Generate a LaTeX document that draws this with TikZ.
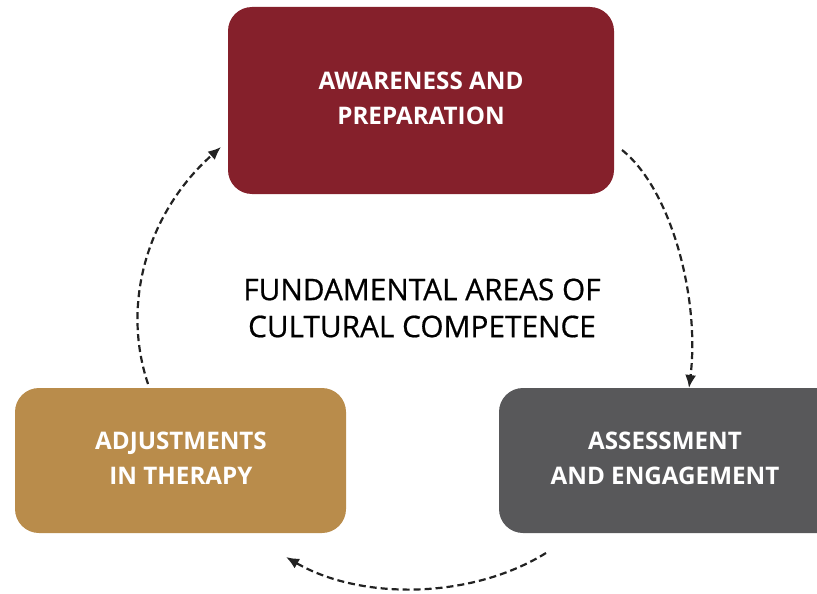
\documentclass[tikz,border=0pt]{standalone}
\usepackage{fontspec}
\setmainfont{Open Sans}
\usetikzlibrary{arrows.meta}
\definecolor{cred}{HTML}{85202B}
\definecolor{ctan}{HTML}{B98C4B}
\definecolor{cgray}{HTML}{58585A}
\definecolor{carrow}{HTML}{222222}
\tikzset{
  box/.style={inner sep=0pt, text=white, font=\bfseries\fontsize{24.2}{35}\selectfont, align=center},
  cyc/.style={draw=carrow, line width=2.2pt, dash pattern=on 7pt off 4pt, -{Latex[length=13pt,width=11pt]}},
}
\begin{document}
\begin{tikzpicture}[x=1pt,y=-1pt]
\useasboundingbox (0,0) rectangle (817,594);
% boxes
\fill[cred, rounded corners=24pt] (228,7) rectangle (614,194);
\node[box] (aw) at (421,98) {AWARENESS AND\\PREPARATION};
\fill[ctan, rounded corners=24pt] (15,388) rectangle (346,533);
\node[box] (adj) at (181,458) {ADJUSTMENTS\\IN THERAPY};
\begin{scope}
\clip (0,0) rectangle (817,594);
\fill[cgray, rounded corners=24pt] (499,388) rectangle (845,533);
\end{scope}
\node[box] (ass) at (665,458) {ASSESSMENT\\AND ENGAGEMENT};
\node[font=\addfontfeature{FakeBold=0.6}\fontsize{29.8}{37}\selectfont, inner sep=0pt, align=center] (title) at (422,308) {FUNDAMENTAL AREAS OF\\CULTURAL COMPETENCE};
% connectors
\coordinate (a1) at (622,150);
\coordinate (a2) at (689,388);
\coordinate (b1) at (546,553);
\coordinate (b2) at (286,557);
\coordinate (c1) at (148,384);
\coordinate (c2) at (221,147);
\draw[cyc] (a1) .. controls (672,190) and (700,300) .. (a2);
\draw[cyc] (b1) .. controls (470,600) and (360,600) .. (b2);
\draw[cyc] (c1) .. controls (120,300) and (150,210) .. (c2);
\end{tikzpicture}
\end{document}
